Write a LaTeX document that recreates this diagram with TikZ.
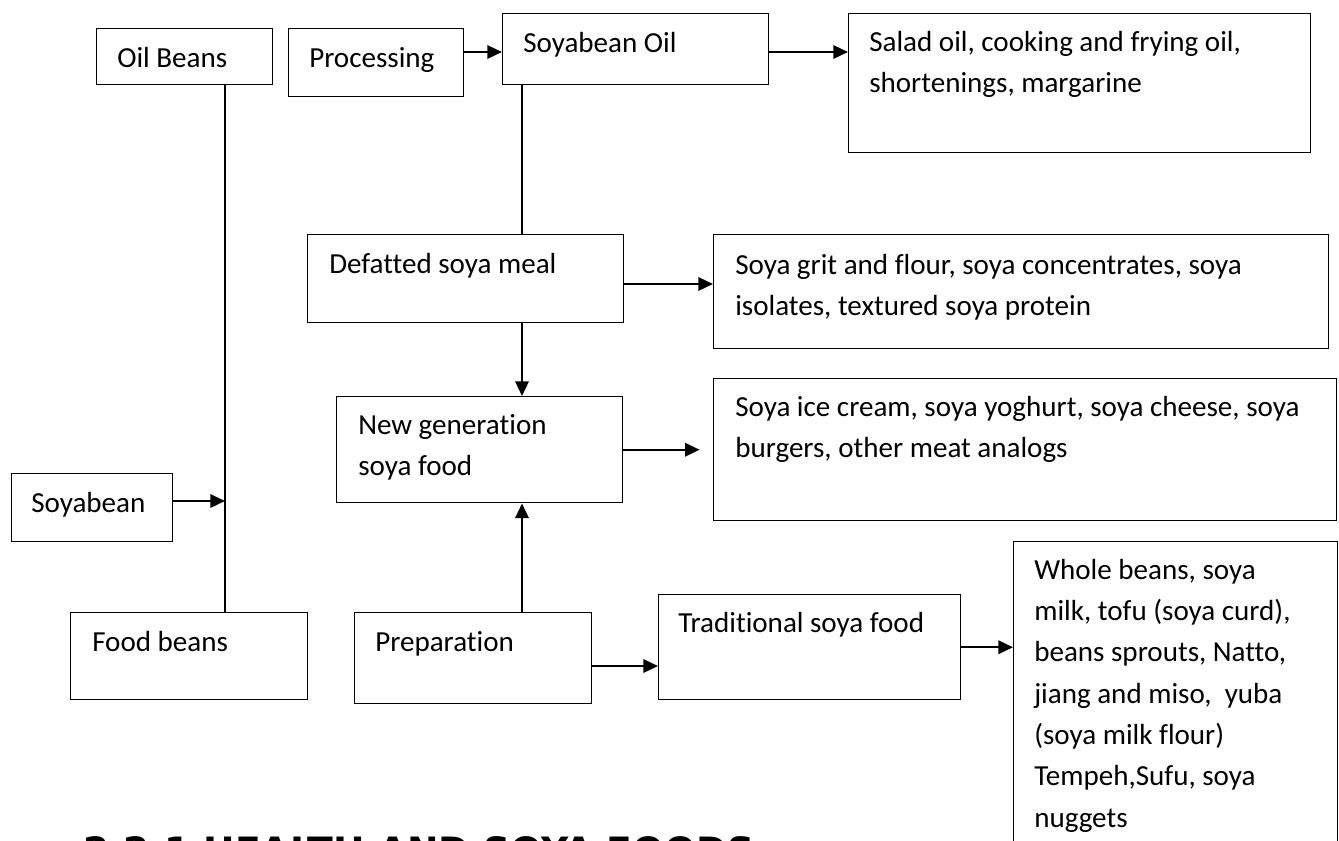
\documentclass[tikz,border=0pt]{standalone}
\usepackage{fontspec}
\setmainfont{Carlito}[Ligatures=CommonOff]
\newfontfamily\headingfont{DejaVu Sans}
\usetikzlibrary{arrows.meta}

\tikzset{
  flowbox/.style 2 args={draw, line width=1.1pt, anchor=north west, inner sep=0pt,
    minimum width=#1*0.75pt, minimum height=#2*0.75pt},
  lbl/.style={anchor=base west, inner sep=0pt, font=\fontsize{21.8pt}{31pt}\selectfont},
  lbls/.style={lbl, text width=#1*0.75pt, align=flush left},
  arr/.style={line width=1.8pt, -{Triangle[length=11pt,width=10pt]}},
  link/.style={line width=1pt}
}

\begin{document}
\begin{tikzpicture}[x=0.75pt,y=-0.75pt]
    \useasboundingbox (0,0) rectangle (1339,840);
    \clip (0,0) rectangle (1339,840);

    % boxes
    \node[flowbox={176}{56}] (oil) at (96,28) {};
    \node[flowbox={175}{68}] (proc) at (288,28) {};
    \node[flowbox={266}{71}] (soyoil) at (502,13) {};
    \node[flowbox={462}{139}] (salad) at (848,13) {};
    \node[flowbox={316}{88}] (defat) at (307,234) {};
    \node[flowbox={615}{114}] (grit) at (713,234) {};
    \node[flowbox={286}{106}] (newgen) at (336,396) {};
    \node[flowbox={623}{142}] (cream) at (713,378) {};
    \node[flowbox={161}{68}] (soy) at (11,473) {};
    \node[flowbox={237}{87}] (food) at (70,612) {};
    \node[flowbox={237}{91}] (prep) at (354,612) {};
    \node[flowbox={302}{105}] (trad) at (658,594) {};
    \node[flowbox={324}{330}] (whole) at (1013,541) {};

    % texts
    \node[lbl] (oiltxt) at (117,67) {Oil Beans};
    \node[lbl] (proctxt) at (309,67) {Processing};
    \node[lbl] (soyoiltxt) at (523,52) {Soyabean Oil};
    \node[lbls=440] (saladtxt) at (869,51) {Salad oil, cooking and frying oil,\\ shortenings, margarine};
    \node[lbl] (defattxt) at (329,273) {Defatted soya meal};
    \node[lbls=590] (grittxt) at (735,274) {Soya grit and flour, soya concentrates, soya\\ isolates, textured soya protein};
    \node[lbls=260] (newgentxt) at (358,434) {New generation\\ soya food};
    \node[lbls=600] (creamtxt) at (735,416) {Soya ice cream, soya yoghurt, soya cheese, soya\\ burgers, other meat analogs};
    \node[lbl] (soytxt) at (31,512) {Soyabean};
    \node[lbl] (foodtxt) at (92,651) {Food beans};
    \node[lbl] (preptxt) at (375,651) {Preparation};
    \node[lbl] (tradtxt) at (678,632) {Traditional soya food};
    \node[lbls=300] (wholetxt) at (1034,579) {Whole beans, soya\\ milk, tofu (soya curd),\\ beans sprouts, Natto,\\ jiang and miso,~ yuba\\ (soya milk flour)\\ Tempeh,Sufu, soya\\ nuggets};

    \node[anchor=base west, inner sep=0pt, font=\headingfont\bfseries\fontsize{28.25pt}{30pt}\selectfont] (heading) at (83,864) {2.2.1 HEALTH AND SOYA FOODS};

    % connectors
    \coordinate (rowA) at (0,52);
    \coordinate (rowB) at (0,284);
    \coordinate (rowC) at (0,666);
    \coordinate (rowS) at (0,501);
    \coordinate (colOil) at (225,0);
    \coordinate (colMeal) at (522,0);

    \draw[arr] (proc.east |- rowA) -- (soyoil.west |- rowA);
    \draw[arr] (soyoil.east |- rowA) -- (salad.west |- rowA);
    \draw[link] (oil.south -| colOil) -- (food.north -| colOil);
    \draw[arr] (soy.east |- rowS) -- (colOil |- rowS);
    \draw[link] (soyoil.south -| colMeal) -- (defat.north -| colMeal);
    \draw[arr] (defat.east |- rowB) -- (grit.west |- rowB);
    \draw[arr] (defat.south -| colMeal) -- (newgen.north -| colMeal);
    \draw[arr] (prep.north -| colMeal) -- (newgen.south -| colMeal);
    \draw[arr, shorten >=10pt] (newgen.east) -- (newgen.east -| cream.west);
    \draw[arr] (prep.east |- rowC) -- (trad.west |- rowC);
    \draw[arr] (trad.east) -- (trad.east -| whole.west);
\end{tikzpicture}
\end{document}
